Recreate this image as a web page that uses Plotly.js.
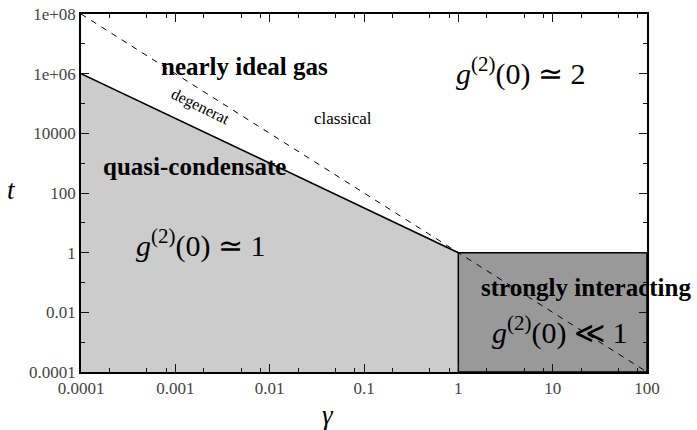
<!DOCTYPE html>
<html>
<head>
<meta charset="utf-8">
<script src="https://cdn.plot.ly/plotly-3.0.1.min.js"></script>
<style>html,body{margin:0;padding:0;background:#fff;}.c{width:697px;height:430px;float:left;}</style>
</head>
<body>
<div id="a" class="c"></div>
<script>
// Boundary data (gamma, t)
const quasiGamma = [1e-4, 1e-4, 1, 1];
const quasiT = [1e-4, 1e6, 1, 1e-4];
const strongGamma = [1, 100, 100, 1, 1];
const strongT = [1e-4, 1e-4, 1, 1, 1e-4];
const degenGamma = [1e-4, 1];
const degenT = [1e6, 1];
const classicalGamma = [1e-4, 100];
const classicalT = [1e8, 1e-4];

const xTickVals = [1e-4, 1e-3, 1e-2, 1e-1, 1, 10, 100];
const xTickText = ['0.0001', '0.001', '0.01', '0.1', '1', '10', '100'];
const yTickVals = [1e-4, 1e-2, 1, 100, 1e4, 1e6, 1e8];
const yTickText = ['0.0001', '0.01', '1', '100', '10000', '1e+06', '1e+08'];
const xMinorVals = [2e-4, 5e-4, 8e-4, 2e-3, 5e-3, 8e-3, 2e-2, 5e-2, 8e-2, 0.2, 0.5, 0.8, 2, 5, 8, 20, 50, 80];
const yMinorVals = [1e-3, 1e-1, 10, 1e3, 1e5, 1e7];

const traces = [
  {x: quasiGamma, y: quasiT, type: 'scatter', mode: 'lines', fill: 'toself', fillcolor: 'rgb(204,204,204)', line: {width: 0}},
  {x: strongGamma, y: strongT, type: 'scatter', mode: 'lines', fill: 'toself', fillcolor: 'rgb(153,153,153)', line: {color: 'black', width: 1.5}},
  {x: degenGamma, y: degenT, type: 'scatter', mode: 'lines', line: {color: 'black', width: 1.6}},
  {x: classicalGamma, y: classicalT, type: 'scatter', mode: 'lines', line: {color: 'black', width: 1, dash: '6px,6px'}}
];

function ax(range, tv, tt, mv) {
  return {type: 'log', range: range, tickmode: 'array', tickvals: tv, ticktext: tt,
    ticks: 'inside', ticklen: 8, tickwidth: 1.2, tickcolor: 'rgb(20,20,20)', showline: true, linecolor: 'black', linewidth: 1.5, mirror: 'ticks',
    showgrid: false, zeroline: false, tickfont: {family: 'Liberation Serif', size: 17},
    minor: {ticks: 'inside', ticklen: 4, tickcolor: 'rgb(20,20,20)', tickmode: 'array', tickvals: mv}};
}

const anns = [
  {text: '<b>nearly ideal gas</b>', x: 0.288, y: 0.852, s: 25},
  {text: 'degenerat', x: 0.212, y: 0.740, s: 16, a: 26},
  {text: 'classical', x: 0.463, y: 0.709, s: 17},
  {text: '<b>quasi-condensate</b>', x: 0.200, y: 0.575, s: 25},
  {text: '<i>g</i><sup>(2)</sup>(0) \u2243 2', x: 0.776, y: 0.838, s: 30},
  {text: '<i>g</i><sup>(2)</sup>(0) \u2243 1', x: 0.212, y: 0.358, s: 30},
  {text: '<b>strongly interacting</b>', x: 0.892, y: 0.237, s: 25},
  {text: '<i>g</i><sup>(2)</sup>(0) \u226A 1', x: 0.845, y: 0.115, s: 30},
  {text: '<i>t</i>', x: -0.122, y: 0.508, s: 27},
  {text: '<i>\u03B3</i>', x: 0.436, y: -0.120, s: 27}
];

const layout = {
  width: 697, height: 430, margin: {l: 81, r: 50, t: 14, b: 58}, showlegend: false,
  xaxis: ax([-4, 2], xTickVals, xTickText, xMinorVals),
  yaxis: ax([-4, 8], yTickVals, yTickText, yMinorVals),
  annotations: anns.map(a => ({text: a.text, x: a.x, y: a.y, xref: 'paper', yref: 'paper', showarrow: false,
    xanchor: 'center', yanchor: 'middle', textangle: a.a || 0, font: {family: 'Liberation Serif', size: a.s, color: 'black'}}))
};

Plotly.newPlot('a', traces, layout, {displayModeBar: false});
</script>
</body>
</html>
